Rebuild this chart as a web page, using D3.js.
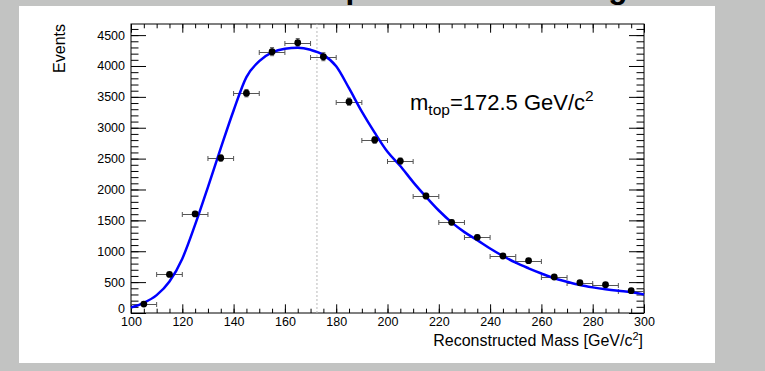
<!DOCTYPE html>
<html>
<head>
<meta charset="utf-8">
<script src="https://cdn.jsdelivr.net/npm/d3@7"></script>
<style>
  body { margin: 0; background: #c2c3c2; }
  svg { display: block; font-family: "Liberation Sans", Arial, sans-serif; }
</style>
</head>
<body>
<div id="chart"></div>
<script>
// bin centres of the histogram (GeV/c^2)
var binCenters = [105, 115, 125, 135, 145, 155, 165, 175, 185, 195,
                  205, 215, 225, 235, 245, 255, 265, 275, 285, 295];
// events per bin
var binCounts = [145, 625, 1605, 2510, 3560, 4232, 4377, 4150, 3422, 2802,
                 2461, 1895, 1468, 1226, 923, 847, 583, 491, 459, 361];
// fitted curve
var fitX = [100, 105, 110, 115, 120, 125, 130, 135, 140, 145, 150, 155, 160, 165, 170,
            175, 180, 185, 190, 195, 200, 205, 210, 215, 220, 225, 230, 235, 240,
            245, 250, 255, 260, 265, 270, 275, 280, 285, 290, 295, 300];
var fitY = [90, 165, 290, 510, 880, 1430, 2040, 2670, 3280, 3820, 4080, 4220, 4280, 4295, 4262,
            4180, 3995, 3640, 3260, 2920, 2610, 2380, 2120, 1883, 1660, 1468, 1310, 1180, 1045,
            923, 815, 724, 640, 562, 505, 453, 415, 384, 360, 340, 300];
var binHalfWidth = 5;
var topMass = 172.5;
var xTicks = [100, 120, 140, 160, 180, 200, 220, 240, 260, 280, 300];
var yTicks = [0, 500, 1000, 1500, 2000, 2500, 3000, 3500, 4000, 4500];

function initMassPlot() {
  var W = 765, H = 371;
  var frame = { left: 131, right: 644, top: 24, bottom: 313 };

  var svg = d3.select("#chart").append("svg")
    .attr("width", W)
    .attr("height", H);

  // title sits mostly above the visible area
  svg.append("text")
    .attr("x", 357)
    .attr("y", -2)
    .attr("text-anchor", "middle")
    .style("font-size", "31.5px")
    .style("font-weight", "bold")
    .text("Reconstructed top mass after fitting");

  // white pad
  svg.append("rect")
    .attr("x", 19).attr("y", 6)
    .attr("width", 696).attr("height", 357)
    .attr("fill", "#fff");

  var x = d3.scaleLinear().domain([100, 300]).range([frame.left, frame.right]);
  var y = d3.scaleLinear().domain([0, 4680]).range([frame.bottom, frame.top]);

  var xMinor = d3.range(100, 301, 5);
  var yMinor = d3.range(0, 4601, 100);
  var fmt = d3.format("d");

  // left axis: ticks point inwards
  svg.append("g")
    .attr("transform", "translate(" + frame.left + ",0)")
    .call(d3.axisLeft(y).tickValues(yMinor).tickSize(-7.5).tickSizeOuter(0).tickFormat(""));
  svg.append("g")
    .attr("class", "ylab")
    .attr("transform", "translate(" + frame.left + ",0)")
    .call(d3.axisLeft(y).tickValues(yTicks).tickSize(-15).tickSizeOuter(0).tickPadding(6).tickFormat(fmt));
  // right axis mirror ticks
  svg.append("g")
    .attr("transform", "translate(" + frame.right + ",0)")
    .call(d3.axisRight(y).tickValues(yMinor).tickSize(-7.5).tickSizeOuter(0).tickFormat(""));
  svg.append("g")
    .attr("transform", "translate(" + frame.right + ",0)")
    .call(d3.axisRight(y).tickValues(yTicks).tickSize(-15).tickSizeOuter(0).tickFormat(""));

  // bottom axis
  svg.append("g")
    .attr("transform", "translate(0," + frame.bottom + ")")
    .call(d3.axisBottom(x).tickValues(xMinor).tickSize(-4.3).tickSizeOuter(0).tickFormat(""));
  svg.append("g")
    .attr("class", "xlab")
    .attr("transform", "translate(0," + frame.bottom + ")")
    .call(d3.axisBottom(x).tickValues(xTicks).tickSize(-8.7).tickSizeOuter(0).tickPadding(4).tickFormat(fmt));
  // top axis mirror ticks
  svg.append("g")
    .attr("transform", "translate(0," + frame.top + ")")
    .call(d3.axisTop(x).tickValues(xMinor).tickSize(-4.3).tickSizeOuter(0).tickFormat(""));
  svg.append("g")
    .attr("transform", "translate(0," + frame.top + ")")
    .call(d3.axisTop(x).tickValues(xTicks).tickSize(-8.7).tickSizeOuter(0).tickFormat(""));

  svg.selectAll(".domain").remove();
  svg.selectAll(".tick line").attr("stroke", "#000").attr("stroke-width", 1);
  svg.selectAll(".ylab text, .xlab text")
    .style("font-size", "12.5px")
    .style("font-family", "Liberation Sans, Arial, sans-serif")
    .attr("fill", "#000");
  // ROOT lifts the zero label a little
  svg.selectAll(".ylab .tick text")
    .filter(function(d) { return d === 0; })
    .attr("dy", "-0.05em");

  // frame
  svg.append("rect")
    .attr("x", frame.left).attr("y", frame.top)
    .attr("width", frame.right - frame.left)
    .attr("height", frame.bottom - frame.top)
    .attr("fill", "none")
    .attr("stroke", "#000")
    .attr("stroke-width", 1);

  // dotted line at generated top mass
  svg.append("line")
    .attr("x1", x(topMass)).attr("x2", x(topMass))
    .attr("y1", frame.bottom).attr("y2", frame.top)
    .attr("stroke", "#b8b8b8")
    .attr("stroke-width", 1)
    .attr("stroke-dasharray", "2,2");

  var points = binCenters.map(function(c, i) { return { x: c, n: binCounts[i] }; });

  // error bars
  var errG = svg.append("g").attr("stroke", "#555").attr("stroke-width", 1);
  points.forEach(function(d) {
    var yy = Math.round(y(d.n)) + 0.5;
    var x0 = x(d.x - binHalfWidth), x1 = x(d.x + binHalfWidth);
    errG.append("line").attr("x1", x0).attr("x2", x1).attr("y1", yy).attr("y2", yy);
    errG.append("line").attr("x1", x0).attr("x2", x0).attr("y1", yy - 2.5).attr("y2", yy + 2.5);
    errG.append("line").attr("x1", x1).attr("x2", x1).attr("y1", yy - 2.5).attr("y2", yy + 2.5);
    // vertical stat error
    var e = Math.sqrt(d.n);
    var xc = x(d.x);
    errG.append("line").attr("x1", xc).attr("x2", xc).attr("y1", y(d.n + e)).attr("y2", y(d.n - e));
    errG.append("line").attr("x1", xc - 2).attr("x2", xc + 2).attr("y1", y(d.n + e)).attr("y2", y(d.n + e));
    errG.append("line").attr("x1", xc - 2).attr("x2", xc + 2).attr("y1", y(d.n - e)).attr("y2", y(d.n - e));
  });

  // fit curve
  var fit = fitX.map(function(v, i) { return [v, fitY[i]]; });
  var line = d3.line()
    .x(function(d) { return x(d[0]); })
    .y(function(d) { return y(d[1]); })
    .curve(d3.curveMonotoneX);
  svg.append("path")
    .datum(fit)
    .attr("fill", "none")
    .attr("stroke", "#0000ff")
    .attr("stroke-width", 2.5)
    .attr("d", line);

  // data markers
  svg.selectAll(".pt")
    .data(points)
    .enter()
    .append("circle")
    .attr("class", "pt")
    .attr("cx", function(d) { return x(d.x); })
    .attr("cy", function(d) { return y(d.n); })
    .attr("r", 3.4)
    .attr("fill", "#000");

  // m_top label
  var lab = svg.append("text")
    .attr("x", 410).attr("y", 110)
    .style("font-size", "22px")
    .attr("fill", "#000");
  lab.append("tspan").text("m");
  lab.append("tspan").attr("dy", 5).style("font-size", "15.5px").text("top");
  lab.append("tspan").attr("dy", -5).text("=172.5 GeV/c");
  lab.append("tspan").attr("dy", -9).style("font-size", "15.5px").text("2");

  // axis titles
  var xt = svg.append("text")
    .attr("x", 643).attr("y", 346)
    .attr("text-anchor", "end")
    .style("font-size", "16px");
  xt.append("tspan").text("Reconstructed Mass [GeV/c");
  xt.append("tspan").attr("dy", -6).style("font-size", "11px").text("2");
  xt.append("tspan").attr("dy", 6).text("]");

  svg.append("text")
    .attr("transform", "translate(65," + frame.top + ") rotate(-90)")
    .attr("text-anchor", "end")
    .style("font-size", "16px")
    .text("Events");
}

window.onload = initMassPlot;
</script>
</body>
</html>
